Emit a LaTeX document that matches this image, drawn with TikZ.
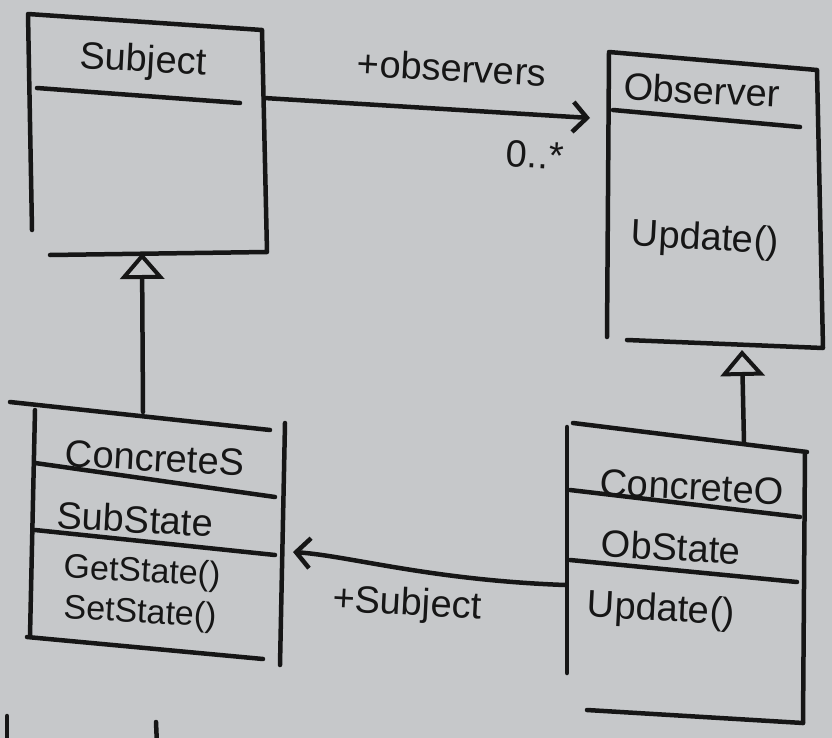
\documentclass[tikz,border=0pt]{standalone}
\usepackage{fontspec}
\setmainfont{Liberation Sans}
\usetikzlibrary{arrows.meta}
\definecolor{paper}{HTML}{C6C8CA}
\definecolor{ink}{HTML}{161616}
\tikzset{
  ink/.style={draw=ink, line width=4.5pt, line cap=round, line join=round},
  lbl/.style={text=ink, font=\fontsize{38}{44}\selectfont, inner sep=0pt, rotate=-3},
  lblsm/.style={lbl, font=\fontsize{34}{39}\selectfont},
  inherit/.style={ink, -{Triangle[open, length=26pt, width=44pt, line width=4pt]}},
  assoc/.style={ink, -{Straight Barb[length=14pt, width=30pt, line width=4.5pt]}}
}
\begin{document}
\begin{tikzpicture}[x=1pt, y=-1pt]
\fill[paper] (0,0) rectangle (832,738);
\useasboundingbox (0,0) rectangle (832,738);

% ---------- Subject ----------
\coordinate (s1) at (28,14);
\coordinate (s2) at (262,30);
\coordinate (s3) at (267,252);
\coordinate (s4) at (50,255);
\coordinate (s5) at (32,230);
\draw[ink] (s5) -- (s1) -- (s2) -- (s3) -- (s4);
\draw[ink] (37,88) -- (240,103);
\node[lbl] (subj) at (143,62) {Subject};

% ---------- Observer ----------
\coordinate (o1) at (607,337);
\coordinate (o2) at (609,52);
\coordinate (o3) at (817,70);
\coordinate (o4) at (823,348);
\coordinate (o5) at (627,340);
\draw[ink] (o1) -- (o2) -- (o3) -- (o4) -- (o5);
\draw[ink] (613,110) -- (800,127);
\node[lbl] (obs) at (702,90) {Observer};
\node[lbl] (obsupd) at (705,240) {Update()};

% ---------- ConcreteS ----------
\coordinate (c1) at (10,402);
\coordinate (c2) at (270,430);
\draw[ink] (c1) -- (c2);
\draw[ink] (35,410) -- (30,636);
\draw[ink] (285,423) -- (280,665);
\draw[ink] (35,463) -- (275,497);
\draw[ink] (35,530) -- (275,555);
\draw[ink] (27,637) -- (263,659);
\node[lbl] (cs) at (155,458) {ConcreteS};
\node[lbl] (ss) at (135,519) {SubState};
\node[lblsm] (gs) at (142,573) {GetState()};
\node[lblsm] (sts) at (140,614) {SetState()};

% ---------- ConcreteO ----------
\draw[ink] (573,423) -- (807,452);
\draw[ink] (567,427) -- (567,673);
\draw[ink] (805,452) -- (803,723);
\draw[ink] (570,490) -- (800,517);
\draw[ink] (570,560) -- (797,582);
\draw[ink] (587,710) -- (803,723);
\node[lbl] (co) at (692,487) {ConcreteO};
\node[lbl] (os) at (671,547) {ObState};
\node[lbl] (coupd) at (661,611) {Update()};

% ---------- connectors ----------
\coordinate (subjR) at (264,98);
\coordinate (obsL) at (590,118);
\draw[assoc] (subjR) -- (obsL);
\node[lbl] (obsname) at (452,68) {+observers};
\node[lbl] (mult) at (535,155) {0..*};

\coordinate (csTop) at (143,412);
\coordinate (subjBot) at (142,253);
\draw[inherit] (csTop) -- (subjBot);

\coordinate (coTop) at (744,443);
\coordinate (obsBot) at (742,350);
\draw[inherit] (coTop) -- (obsBot);

\coordinate (coL) at (565,585);
\coordinate (csR) at (293,552);
\draw[assoc] (coL) .. controls (430,580) and (350,556) .. (csR);
\node[lbl] (subjname) at (407,605) {+Subject};

% cut-off strokes at the bottom edge
\draw[ink] (7,716) -- (7,745);
\draw[ink] (156,722) -- (157,745);
\end{tikzpicture}
\end{document}
